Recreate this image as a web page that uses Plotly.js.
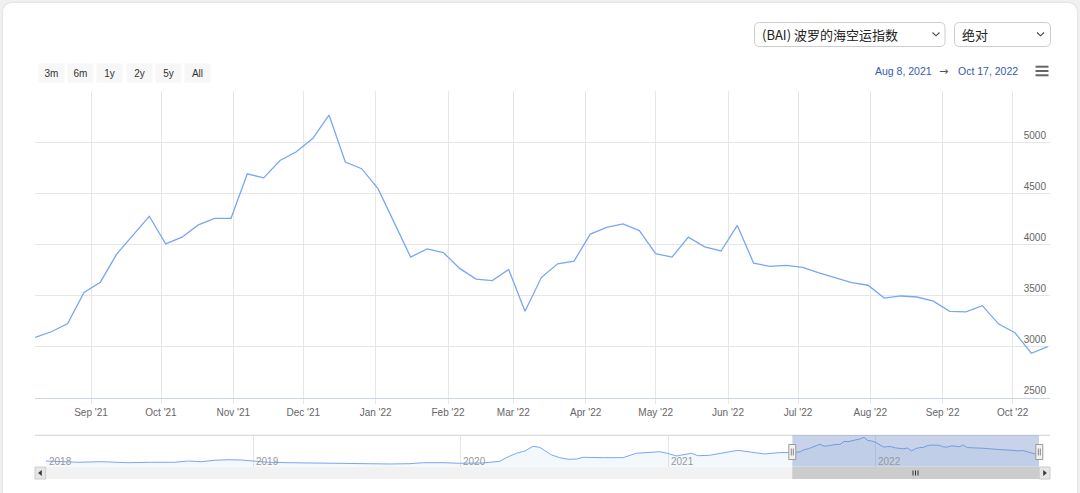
<!DOCTYPE html>
<html>
<head>
<meta charset="utf-8">
<script src="https://cdn.plot.ly/plotly-3.0.1.min.js"></script>
<style>
  html, body { margin:0; padding:0; width:1080px; height:493px; overflow:hidden; background:#f1f1f1; }
  #card { position:absolute; left:3px; top:3px; width:1074px; height:520px; background:#fff; border-radius:9px; box-shadow:0 0 3px rgba(0,0,0,0.12); }
  #chart { position:absolute; left:0; top:0; width:1080px; height:493px; }
</style>
</head>
<body>
<div id="card"></div>
<div id="chart"></div>
<script>
// ---------------- data ----------------
const seriesName = '(BAI) 波罗的海空运指数';
const modeName = '绝对';
const firstWeek = '2021-08-08';          // weekly observations (Sundays)
const baiValues = [3090,3145,3225,3530,3630,3905,4090,4275,4005,4070,
                   4190,4255,4255,4690,4650,4820,4905,5035,5265,4805,
                   4740,4545,4210,3875,3955,3920,3765,3660,3645,3755,
                   3345,3675,3810,3835,4100,4165,4200,4135,3910,3875,
                   4070,3975,3935,4185,3815,3785,3795,3775,3720,3675,
                   3625,3600,3475,3495,3485,3445,3345,3340,3400,3220,
                   3135,2935,3000];
// longer history shown in the navigator (read from the small overview)
const navDates = ['2018-01-01','2018-02-27','2018-04-09','2018-05-26','2018-07-06','2018-08-16',
                  '2018-09-09','2018-10-02','2018-10-26','2018-11-18','2018-12-12','2018-12-31',
                  '2019-01-28','2019-03-04','2019-04-08','2019-05-13','2019-06-18','2019-07-23',
                  '2019-08-30','2019-10-04','2019-10-28','2019-12-02','2019-12-30','2020-02-10',
                  '2020-03-11','2020-03-22','2020-04-09','2020-04-24','2020-05-08','2020-05-20',
                  '2020-06-10','2020-06-24','2020-07-09','2020-07-24','2020-08-04','2020-09-09',
                  '2020-10-14','2020-11-06','2020-12-17','2020-12-31','2021-01-16','2021-02-11',
                  '2021-02-23','2021-03-15','2021-04-05','2021-05-04','2021-05-22','2021-06-20',
                  '2021-07-14'];
const navValues = [1920,1740,1820,1680,1740,1740,
                   1920,1820,2020,2100,2060,1920,
                   1740,1680,1640,1600,1540,1540,
                   1500,1540,1680,1680,1600,1640,
                   1880,2390,3010,3330,3990,3850,
                   2770,2390,2160,2200,2440,2390,
                   2390,3010,3230,3010,2630,3010,
                   2670,2720,3010,3430,3230,2910,
                   3090];
const viewStart = '2021-08-08', viewEnd = '2022-10-17';
const navStart = '2018-01-01';
const yTickVals = [2500,3000,3500,4000,4500,5000,5500];
const yTickText = ['2500','3000','3500','4000','4500','5000',''];
const navYears = ['2018','2019','2020','2021','2022'];
const rangeButtons = ['3m','6m','1y','2y','5y','All'];
const rangeLabelFrom = 'Aug 8, 2021', rangeLabelTo = 'Oct 17, 2022';

// weekly dates for the main series
const weekDates = baiValues.map((_, i) => {
  const d = new Date(Date.UTC(2021, 7, 8 + 7 * i));
  return d.toISOString().slice(0, 10);
});

// ---------------- layout helpers (pixel -> paper) ----------------
const L = 35, R = 1050, T = 91, B = 478;
const px = x => (x - L) / (R - L);
const py = y => (B - y) / (B - T);
const P = (x, y) => px(x).toFixed(5) + ',' + py(y).toFixed(5);
function rr(x0, y0, x1, y1, r) {
  return `M${P(x0 + r, y0)} L${P(x1 - r, y0)} Q${P(x1, y0)} ${P(x1, y0 + r)} L${P(x1, y1 - r)} Q${P(x1, y1)} ${P(x1 - r, y1)} L${P(x0 + r, y1)} Q${P(x0, y1)} ${P(x0, y1 - r)} L${P(x0, y0 + r)} Q${P(x0, y0)} ${P(x0 + r, y0)} Z`;
}
function rect(x0, y0, x1, y1, fill, line, lw) {
  return {type:'rect', xref:'paper', yref:'paper', x0:px(x0), x1:px(x1), y0:py(y1), y1:py(y0),
          fillcolor:fill, line:{color:line || fill, width:lw === undefined ? 0 : lw}, layer:'above'};
}
function seg(x0, y0, x1, y1, color, w) {
  return {type:'line', xref:'paper', yref:'paper', x0:px(x0), x1:px(x1), y0:py(y0), y1:py(y1),
          line:{color:color, width:w}, layer:'above'};
}
function pathShape(d, fill, line, w) {
  return {type:'path', xref:'paper', yref:'paper', path:d, fillcolor:fill, line:{color:line, width:w}, layer:'above'};
}

const lineColor = '#78a7f3';

const traces = [
  {x: weekDates, y: baiValues, type:'scatter', mode:'lines', xaxis:'x', yaxis:'y',
   line:{color:lineColor, width:1.3}, hoverinfo:'x+y', showlegend:false},
  {x: navDates.concat(weekDates), y: navValues.concat(baiValues), type:'scatter', mode:'lines',
   xaxis:'x2', yaxis:'y2', line:{color:lineColor, width:1}, fill:'tozeroy',
   fillcolor:'rgba(124,181,236,0.09)', hoverinfo:'skip', showlegend:false}
];

const shapes = [];
// navigator top outline
shapes.push(seg(35, 435.3, 1050, 435.3, '#d0d0d0', 1));
// navigator mask over the visible range
shapes.push({type:'rect', xref:'x2', yref:'paper', x0:viewStart, x1:viewEnd, y0:py(466.7), y1:py(435.3),
             fillcolor:'rgba(102,133,194,0.36)', line:{width:0}, layer:'above'});
// handles
[792.3, 1039.3].forEach(hx => {
  shapes.push(rect(hx - 3.5, 444.5, hx + 3.5, 459.5, '#f2f2f2', '#999999', 1));
  shapes.push(seg(hx - 1, 448.5, hx - 1, 455.5, '#888', 1));
  shapes.push(seg(hx + 1, 448.5, hx + 1, 455.5, '#888', 1));
});
// scrollbar
shapes.push(rect(35, 467, 1050, 479, '#f2f2f2'));
shapes.push(rect(792.3, 467, 1039.3, 479, '#cccccc'));
shapes.push(rect(35, 467, 45.7, 479, '#e6e6e6', '#cccccc', 1));
shapes.push(rect(1039.3, 467, 1050, 479, '#e6e6e6', '#cccccc', 1));
shapes.push(pathShape(`M${P(38.5, 473)} L${P(41.5, 470.5)} L${P(41.5, 475.5)} Z`, '#333', '#333', 0.5));
shapes.push(pathShape(`M${P(1046.5, 473)} L${P(1043.5, 470.5)} L${P(1043.5, 475.5)} Z`, '#333', '#333', 0.5));
[913, 915.5, 918].forEach(gx => shapes.push(seg(gx, 470.5, gx, 475.5, '#333', 1)));
// dropdown boxes
shapes.push(pathShape(rr(754.5, 22.5, 945, 46.5, 5), '#ffffff', '#cccccc', 1));
shapes.push(pathShape(rr(954.5, 22.5, 1050.5, 46.5, 5), '#ffffff', '#cccccc', 1));
[936, 1040.5].forEach(cx => shapes.push(pathShape(`M${P(cx - 3.5, 32.5)} L${P(cx, 35.8)} L${P(cx + 3.5, 32.5)}`, 'rgba(0,0,0,0)', '#444', 1.1)));
// menu icon
[66.7, 71, 75.3].forEach(my => shapes.push(seg(1035.5, my, 1048.5, my, '#666', 2)));

const annotations = [];
rangeButtons.forEach((lab, i) => {
  annotations.push({xref:'paper', yref:'paper', x:px(51.5 + i * 29.2), y:py(73.4), xanchor:'center', yanchor:'middle',
    text:lab, showarrow:false, width:25, height:18, bgcolor:'#f7f7f7', borderpad:0,
    font:{family:'Liberation Sans, Arial, sans-serif', size:10, color:'#333'}});
});
annotations.push({xref:'paper', yref:'paper', x:px(873), y:py(71), xanchor:'left', yanchor:'middle', text:rangeLabelFrom,
  showarrow:false, font:{family:'Liberation Sans, Arial, sans-serif', size:10.5, color:'#335cad'}});
annotations.push({xref:'paper', yref:'paper', x:px(943.3), y:py(71), xanchor:'center', yanchor:'middle', text:'→',
  showarrow:false, font:{family:'DejaVu Sans, sans-serif', size:11, color:'#555'}});
annotations.push({xref:'paper', yref:'paper', x:px(955.5), y:py(71), xanchor:'left', yanchor:'middle', text:rangeLabelTo,
  showarrow:false, font:{family:'Liberation Sans, Arial, sans-serif', size:10.5, color:'#335cad'}});
annotations.push({xref:'paper', yref:'paper', x:px(760), y:py(34.5), xanchor:'left', yanchor:'middle', text:seriesName,
  showarrow:false, font:{family:'Noto Sans CJK SC, sans-serif', size:13, color:'#222'}});
annotations.push({xref:'paper', yref:'paper', x:px(959.5), y:py(34.5), xanchor:'left', yanchor:'middle', text:modeName,
  showarrow:false, font:{family:'Noto Sans CJK SC, sans-serif', size:13, color:'#222'}});
navYears.forEach(yr => {
  annotations.push({xref:'x2', yref:'paper', x:yr + '-01-01', y:py(461), xanchor:'left', yanchor:'middle', xshift:1,
    text:yr, showarrow:false, font:{family:'Liberation Sans, Arial, sans-serif', size:10, color:'#999'}});
});

const layout = {
  width:1080, height:493,
  margin:{l:L, r:1080 - R, t:T, b:493 - B, pad:0},
  paper_bgcolor:'rgba(0,0,0,0)', plot_bgcolor:'rgba(0,0,0,0)',
  font:{family:'Liberation Sans, Arial, sans-serif', size:10, color:'#666'},
  showlegend:false,
  xaxis:{type:'date', range:[viewStart, viewEnd], domain:[0, 1], anchor:'y',
    showgrid:true, gridcolor:'#e6e6e6', gridwidth:1,
    showline:true, linecolor:'#ccd6eb', linewidth:1,
    ticks:'outside', ticklen:5, tickcolor:'#e6e6e6',
    dtick:'M1', tick0:'2021-09-01', tickformat:"%b '%y",
    tickfont:{size:10, color:'#666'}, zeroline:false, fixedrange:true},
  yaxis:{range:[2500, 5500], domain:[py(397.7), 1], anchor:'x', side:'right',
    tickvals:yTickVals, ticktext:yTickText, ticklabelposition:'inside top', ticklabelstandoff:1,
    showgrid:true, gridcolor:'#e6e6e6', gridwidth:1, showline:false, zeroline:false,
    ticks:'', tickfont:{size:10, color:'#666'}, fixedrange:true},
  xaxis2:{type:'date', range:[navStart, viewEnd], domain:[px(45.8), px(1039.3)], anchor:'y2',
    showgrid:true, gridcolor:'#e6e6e6', dtick:'M12', tick0:'2018-01-01',
    showticklabels:false, ticks:'', showline:false, zeroline:false, fixedrange:true},
  yaxis2:{range:[1114, 5547], domain:[py(466.7), py(435.3)], anchor:'x2', visible:false, fixedrange:true},
  shapes:shapes,
  annotations:annotations
};

Plotly.newPlot('chart', traces, layout, {displayModeBar:false, responsive:false});
</script>
</body>
</html>
